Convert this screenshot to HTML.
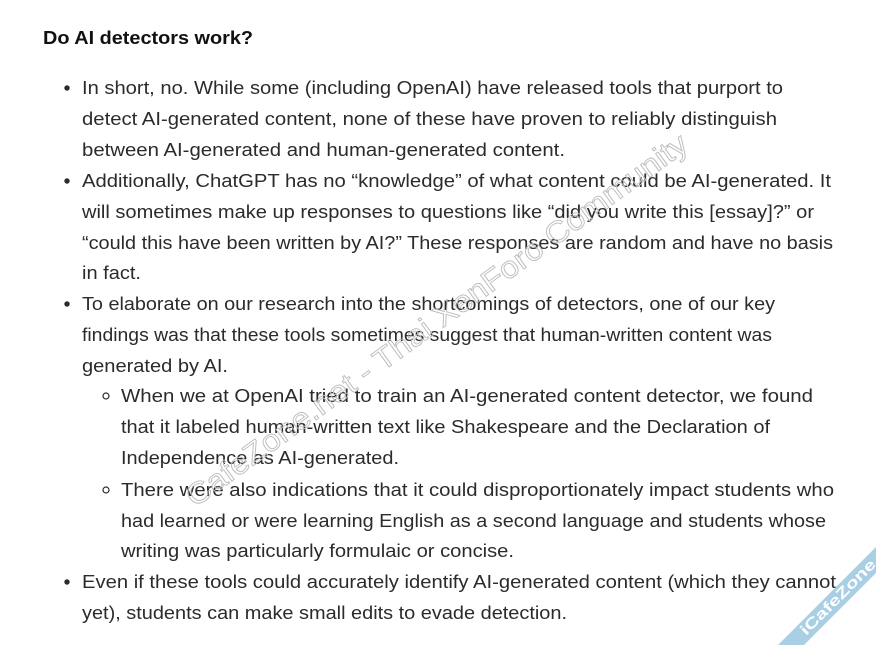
<!DOCTYPE html>
<html><head><meta charset="utf-8"><style>
html,body{margin:0;padding:0;background:#fff;width:876px;height:645px;overflow:hidden}
svg{display:block}
text{font-family:"Liberation Sans",sans-serif;fill:#2b2b2b;font-size:18px}
</style></head><body>
<svg width="876" height="645" viewBox="0 0 876 645">
<text x="43" y="44" font-weight="bold" font-size="17" textLength="210" lengthAdjust="spacingAndGlyphs" style="fill:#111">Do AI detectors work?</text>
<g>
<circle cx="67" cy="88" r="2.7" fill="#2b2b2b"/>
<circle cx="67" cy="181" r="2.7" fill="#2b2b2b"/>
<circle cx="67" cy="304" r="2.7" fill="#2b2b2b"/>
<circle cx="67" cy="582" r="2.7" fill="#2b2b2b"/>
<circle cx="106" cy="396" r="3" fill="none" stroke="#2b2b2b" stroke-width="1.2"/>
<circle cx="106" cy="490" r="3" fill="none" stroke="#2b2b2b" stroke-width="1.2"/>
</g>
<g lengthAdjust="spacingAndGlyphs">
<text x="82" y="94" textLength="701" lengthAdjust="spacingAndGlyphs">In short, no. While some (including OpenAI) have released tools that purport to</text>
<text x="82" y="125" textLength="695" lengthAdjust="spacingAndGlyphs">detect AI-generated content, none of these have proven to reliably distinguish</text>
<text x="82" y="156" textLength="483" lengthAdjust="spacingAndGlyphs">between AI-generated and human-generated content.</text>
<text x="82" y="187" textLength="749" lengthAdjust="spacingAndGlyphs">Additionally, ChatGPT has no “knowledge” of what content could be AI-generated. It</text>
<text x="82" y="218" textLength="732" lengthAdjust="spacingAndGlyphs">will sometimes make up responses to questions like “did you write this [essay]?” or</text>
<text x="82" y="249" textLength="751" lengthAdjust="spacingAndGlyphs">“could this have been written by AI?” These responses are random and have no basis</text>
<text x="82" y="279" textLength="59" lengthAdjust="spacingAndGlyphs">in fact.</text>
<text x="82" y="310" textLength="693" lengthAdjust="spacingAndGlyphs">To elaborate on our research into the shortcomings of detectors, one of our key</text>
<text x="82" y="341" textLength="690" lengthAdjust="spacingAndGlyphs">findings was that these tools sometimes suggest that human-written content was</text>
<text x="82" y="372" textLength="146" lengthAdjust="spacingAndGlyphs">generated by AI.</text>
<text x="121" y="402" textLength="692" lengthAdjust="spacingAndGlyphs">When we at OpenAI tried to train an AI-generated content detector, we found</text>
<text x="121" y="433" textLength="649" lengthAdjust="spacingAndGlyphs">that it labeled human-written text like Shakespeare and the Declaration of</text>
<text x="121" y="464" textLength="278" lengthAdjust="spacingAndGlyphs">Independence as AI-generated.</text>
<text x="121" y="496" textLength="713" lengthAdjust="spacingAndGlyphs">There were also indications that it could disproportionately impact students who</text>
<text x="121" y="527" textLength="705" lengthAdjust="spacingAndGlyphs">had learned or were learning English as a second language and students whose</text>
<text x="121" y="557" textLength="393" lengthAdjust="spacingAndGlyphs">writing was particularly formulaic or concise.</text>
<text x="82" y="588" textLength="754" lengthAdjust="spacingAndGlyphs">Even if these tools could accurately identify AI-generated content (which they cannot</text>
<text x="82" y="619" textLength="485" lengthAdjust="spacingAndGlyphs">yet), students can make small edits to evade detection.</text>
</g>
<text x="0" y="0" transform="translate(195,508) rotate(-36)" textLength="612" lengthAdjust="spacingAndGlyphs" style="fill:none;stroke:#bdbdbd;stroke-width:0.9;font-size:30px">CafeZone.net - Thai XenForo Community</text>
<polygon points="778,645 804,645 876,573 876,547" fill="#a8cfe3"/>
<text x="0" y="0" transform="translate(806,636) rotate(-45)" textLength="100" lengthAdjust="spacingAndGlyphs" style="fill:#fff;font-weight:bold;font-size:15px">iCafeZone</text>
</svg>
</body></html>
